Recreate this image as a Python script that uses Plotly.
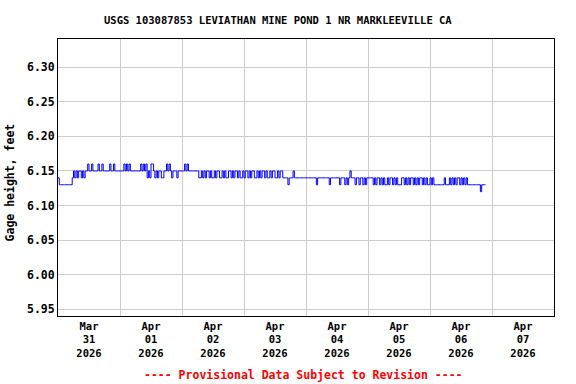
import pandas as pd
import plotly.graph_objects as go

# Gage height, feet, at 30-minute steps (one list per day)
mar31 = [6.14, 6.13, 6.13, 6.13, 6.13, 6.13, 6.13, 6.13, 6.13, 6.13, 6.13,
         6.14, 6.15, 6.14, 6.15, 6.14, 6.15, 6.15, 6.14, 6.15, 6.14, 6.15,
         6.15, 6.16, 6.15, 6.15, 6.16, 6.15, 6.15, 6.15, 6.15, 6.16, 6.15, 6.15, 6.16,
         6.15, 6.15, 6.15, 6.15, 6.15, 6.16, 6.15, 6.15, 6.16, 6.15, 6.15, 6.15, 6.15]
apr01 = [6.15, 6.15, 6.15, 6.16, 6.15, 6.16, 6.15, 6.16, 6.15,
         6.15, 6.15, 6.15, 6.15, 6.15, 6.15, 6.15,
         6.16, 6.15, 6.16, 6.15, 6.16, 6.14, 6.15, 6.14, 6.16, 6.16, 6.15, 6.14,
         6.15, 6.14, 6.15, 6.15, 6.14, 6.14, 6.15, 6.15, 6.16, 6.15, 6.16, 6.15,
         6.14, 6.15, 6.15, 6.15, 6.14, 6.15, 6.15, 6.15]
apr02 = [6.15, 6.15, 6.16, 6.15, 6.16, 6.15, 6.15, 6.15, 6.15, 6.15, 6.15, 6.15, 6.15,
         6.14, 6.14, 6.15, 6.14,
         6.15, 6.14, 6.15, 6.15, 6.14, 6.15, 6.14, 6.14, 6.15, 6.14, 6.15, 6.15, 6.14,
         6.14, 6.15, 6.14, 6.15, 6.14, 6.14, 6.15, 6.15, 6.14, 6.15, 6.14, 6.15, 6.15,
         6.14, 6.15, 6.14, 6.14, 6.15]
apr03 = [6.14, 6.15, 6.15, 6.14, 6.15, 6.14, 6.15, 6.15, 6.14, 6.14, 6.15, 6.14,
         6.15, 6.14, 6.15, 6.15, 6.14, 6.15, 6.14, 6.14, 6.15, 6.14, 6.15, 6.15,
         6.14, 6.14, 6.15, 6.14, 6.15, 6.15, 6.14, 6.14,
         6.14, 6.14, 6.13, 6.14, 6.14, 6.14, 6.15,
         6.14, 6.14, 6.14, 6.14, 6.14, 6.14, 6.14, 6.14, 6.14]
apr04 = [6.14, 6.14, 6.14, 6.14, 6.14, 6.14, 6.14, 6.14, 6.13,
         6.14, 6.14, 6.14, 6.14, 6.14, 6.14, 6.14, 6.14, 6.14, 6.13,
         6.14, 6.14, 6.14, 6.14, 6.14, 6.14, 6.14, 6.13, 6.14, 6.14, 6.14,
         6.13, 6.14, 6.13, 6.14, 6.15, 6.14, 6.14, 6.14, 6.13, 6.14, 6.14,
         6.13, 6.14, 6.14, 6.13, 6.14, 6.13, 6.14]
apr05 = [6.14, 6.14, 6.14, 6.14,
         6.13, 6.14, 6.13, 6.14, 6.14, 6.13, 6.14, 6.13, 6.14, 6.13, 6.13,
         6.14, 6.13, 6.14, 6.14, 6.13, 6.14, 6.13, 6.14, 6.13, 6.13,
         6.13, 6.14, 6.14,
         6.13, 6.14, 6.13, 6.14, 6.13, 6.14, 6.14, 6.13, 6.14, 6.13, 6.14, 6.13,
         6.14, 6.14, 6.13, 6.14, 6.13, 6.14, 6.13, 6.13]
apr06 = [6.14, 6.13, 6.14, 6.13, 6.13, 6.13, 6.13, 6.13, 6.13, 6.13, 6.13,
         6.14, 6.13, 6.13, 6.13, 6.14, 6.13, 6.14, 6.13,
         6.14, 6.13, 6.14, 6.14, 6.13, 6.14, 6.13, 6.14, 6.13, 6.14, 6.13,
         6.13, 6.13, 6.13, 6.13, 6.13, 6.13, 6.13, 6.13, 6.13,
         6.12, 6.13, 6.13, 6.13, 6.13]

gage = mar31 + apr01 + apr02 + apr03 + apr04 + apr05 + apr06
times = pd.date_range("2026-03-31 00:00", periods=len(gage), freq="30min")

tick_dates = ["2026-03-31 12:00", "2026-04-01 12:00", "2026-04-02 12:00", "2026-04-03 12:00",
              "2026-04-04 12:00", "2026-04-05 12:00", "2026-04-06 12:00", "2026-04-07 12:00"]
tick_labels = ["Mar<br>31<br>2026", "Apr<br>01<br>2026", "Apr<br>02<br>2026", "Apr<br>03<br>2026",
               "Apr<br>04<br>2026", "Apr<br>05<br>2026", "Apr<br>06<br>2026", "Apr<br>07<br>2026"]
y_ticks = [5.95, 6.00, 6.05, 6.10, 6.15, 6.20, 6.25, 6.30]

FONT = "DejaVu Sans Mono"

fig = go.Figure()
fig.add_trace(go.Scatter(x=times, y=gage, mode="lines", line=dict(color="#0000ff", width=1, shape="hv"),
                         showlegend=False, hoverinfo="skip"))

fig.update_layout(
    width=576, height=384,
    margin=dict(l=58, r=22, t=39, b=68),
    paper_bgcolor="white", plot_bgcolor="white",
    font=dict(family=FONT, size=11, color="black", weight="bold"),
    xaxis=dict(
        range=["2026-03-31 00:00", "2026-04-08 00:00"],
        tickmode="array", tickvals=tick_dates, ticktext=tick_labels,
        showgrid=False, ticks="", showline=True, linecolor="black", linewidth=1, mirror=True,
        tickfont=dict(family=FONT, size=10.5, color="black", weight="bold"),
        minor=dict(tick0="2026-03-31", dtick=86400000, showgrid=True, gridcolor="#cccccc", gridwidth=1, ticks=""),
        zeroline=False,
    ),
    yaxis=dict(
        range=[5.940, 6.341],
        tickmode="array", tickvals=y_ticks, tickformat=".2f",
        showgrid=True, gridcolor="#cccccc", gridwidth=1, ticks="",
        showline=True, linecolor="black", linewidth=1, mirror=True,
        tickfont=dict(family=FONT, size=11.5, color="black", weight="bold"),
        zeroline=False,
    ),
    annotations=[
        dict(text="USGS 103087853 LEVIATHAN MINE POND 1 NR MARKLEEVILLE CA", xref="paper", yref="paper",
             x=0.4435, y=1.0686, showarrow=False, xanchor="center", yanchor="middle",
             font=dict(family=FONT, size=10.5, color="black", weight="bold")),
        dict(text="Gage height, feet", xref="paper", yref="paper", x=-0.0948, y=0.482, textangle=-90,
             showarrow=False, xanchor="center", yanchor="middle",
             font=dict(family=FONT, size=11.5, color="black", weight="bold")),
        dict(text="---- Provisional Data Subject to Revision ----", xref="paper", yref="paper",
             x=0.495, y=-0.213, showarrow=False, xanchor="center", yanchor="middle",
             font=dict(family=FONT, size=11.5, color="#ff0000", weight="bold")),
    ],
)

fig.write_html("out.html", config={"displayModeBar": False},
               post_script="document.body.style.margin='0';")
